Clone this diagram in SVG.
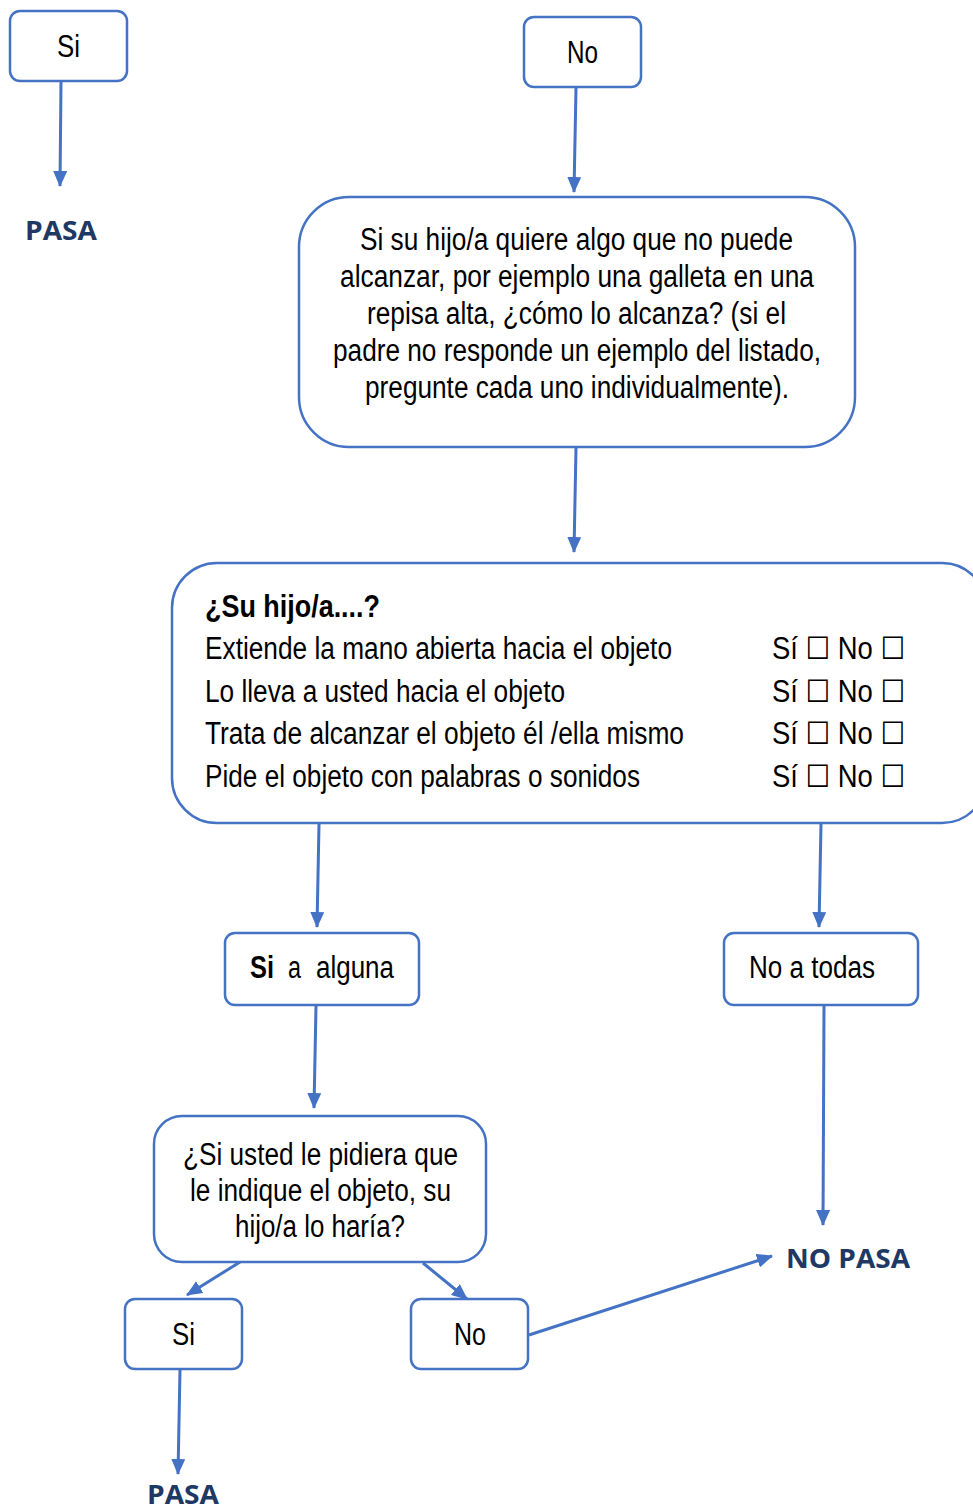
<svg xmlns="http://www.w3.org/2000/svg" width="973" height="1510" viewBox="0 0 973 1510">
<style>
.box{fill:#fff;stroke:#4472C4;stroke-width:2.5}
.t{font-family:"Liberation Sans Narrow","Liberation Sans",Arial,sans-serif;font-size:31px;fill:#000}
.b{font-weight:bold}
.c{text-anchor:middle}
.pasa{font-family:"Open Sans","Liberation Sans",sans-serif;font-weight:bold;font-size:27px;fill:#203864}
.ck{font-family:"Liberation Sans Narrow","Liberation Sans","DejaVu Sans",sans-serif;font-size:31px;fill:#000}
.con{stroke:#4472C4;stroke-width:3;fill:none;marker-end:url(#ah)}
</style>
<defs>
<marker id="ah" markerUnits="userSpaceOnUse" markerWidth="16" markerHeight="14" refX="15" refY="7" orient="auto">
<path d="M0,0 L16,7 L0,14 z" fill="#4472C4"/>
</marker>
</defs>
<rect width="973" height="1510" fill="#fff"/>

<g id="connectors">
<line class="con" x1="61" y1="82" x2="60" y2="186"/>
<line class="con" x1="576" y1="88" x2="574" y2="192"/>
<line class="con" x1="576" y1="448" x2="574" y2="552"/>
<line class="con" x1="319" y1="824" x2="317" y2="927"/>
<line class="con" x1="821" y1="824" x2="819" y2="927"/>
<line class="con" x1="316" y1="1006" x2="314" y2="1108"/>
<line class="con" x1="824" y1="1006" x2="823" y2="1225"/>
<line class="con" x1="240" y1="1262" x2="187" y2="1295"/>
<line class="con" x1="423" y1="1263" x2="467" y2="1299"/>
<line class="con" x1="529" y1="1335" x2="772" y2="1256"/>
<line class="con" x1="180" y1="1370" x2="178" y2="1474"/>
</g>

<g id="si-top">
<rect class="box" x="10" y="11" width="117" height="70" rx="10"/>
<text class="t" x="57" y="57" textLength="23" lengthAdjust="spacingAndGlyphs">Si</text>
</g>
<g id="pasa-top">
<text class="pasa" x="25" y="240" textLength="72" lengthAdjust="spacingAndGlyphs">PASA</text>
</g>

<g id="no-top">
<rect class="box" x="524" y="17" width="117" height="70" rx="10"/>
<text class="t" x="567" y="63" textLength="31" lengthAdjust="spacingAndGlyphs">No</text>
</g>

<g id="pregunta1">
<rect class="box" x="299" y="197" width="556" height="250" rx="50"/>
<text class="t" x="360" y="250" textLength="433" lengthAdjust="spacingAndGlyphs">Si su hijo/a quiere algo que no puede</text>
<text class="t" x="340" y="287" textLength="474" lengthAdjust="spacingAndGlyphs">alcanzar, por ejemplo una galleta en una</text>
<text class="t" x="367" y="324" textLength="419" lengthAdjust="spacingAndGlyphs">repisa alta, ¿cómo lo alcanza? (si el</text>
<text class="t" x="333" y="361" textLength="488" lengthAdjust="spacingAndGlyphs">padre no responde un ejemplo del listado,</text>
<text class="t" x="365" y="398" textLength="424" lengthAdjust="spacingAndGlyphs">pregunte cada uno individualmente).</text>
</g>

<g id="lista">
<rect class="box" x="172" y="563" width="815" height="260" rx="45"/>
<text class="t b" x="205" y="617" textLength="175" lengthAdjust="spacingAndGlyphs">¿Su hijo/a....?</text>
<text class="t" x="205" y="659" textLength="467" lengthAdjust="spacingAndGlyphs">Extiende la mano abierta hacia el objeto</text>
<text class="t" x="205" y="702" textLength="360" lengthAdjust="spacingAndGlyphs">Lo lleva a usted hacia el objeto</text>
<text class="t" x="205" y="744" textLength="479" lengthAdjust="spacingAndGlyphs">Trata de alcanzar el objeto él /ella mismo</text>
<text class="t" x="205" y="787" textLength="435" lengthAdjust="spacingAndGlyphs">Pide el objeto con palabras o sonidos</text>
<text class="ck" x="772" y="659" textLength="133" lengthAdjust="spacingAndGlyphs">Sí ☐ No ☐</text>
<text class="ck" x="772" y="702" textLength="133" lengthAdjust="spacingAndGlyphs">Sí ☐ No ☐</text>
<text class="ck" x="772" y="744" textLength="133" lengthAdjust="spacingAndGlyphs">Sí ☐ No ☐</text>
<text class="ck" x="772" y="787" textLength="133" lengthAdjust="spacingAndGlyphs">Sí ☐ No ☐</text>
</g>

<g id="si-alguna">
<rect class="box" x="225" y="933" width="194" height="72" rx="10"/>
<text class="t" y="978"><tspan class="b" x="250" textLength="24" lengthAdjust="spacingAndGlyphs">Si</tspan><tspan x="288" textLength="13" lengthAdjust="spacingAndGlyphs">a</tspan><tspan x="316" textLength="78" lengthAdjust="spacingAndGlyphs">alguna</tspan></text>
</g>

<g id="no-todas">
<rect class="box" x="724" y="933" width="194" height="72" rx="10"/>
<text class="t" x="749" y="978" textLength="126" lengthAdjust="spacingAndGlyphs">No a todas</text>
</g>

<g id="pregunta2">
<rect class="box" x="154" y="1116" width="332" height="146" rx="28"/>
<text class="t" x="183" y="1165" textLength="275" lengthAdjust="spacingAndGlyphs">¿Si usted le pidiera que</text>
<text class="t" x="190" y="1201" textLength="261" lengthAdjust="spacingAndGlyphs">le indique el objeto, su</text>
<text class="t" x="235" y="1237" textLength="170" lengthAdjust="spacingAndGlyphs">hijo/a lo haría?</text>
</g>

<g id="si-bottom">
<rect class="box" x="125" y="1299" width="117" height="70" rx="10"/>
<text class="t" x="172" y="1345" textLength="23" lengthAdjust="spacingAndGlyphs">Si</text>
</g>

<g id="no-bottom">
<rect class="box" x="411" y="1299" width="117" height="70" rx="10"/>
<text class="t" x="454" y="1345" textLength="32" lengthAdjust="spacingAndGlyphs">No</text>
</g>

<g id="no-pasa">
<text class="pasa" x="786" y="1268" textLength="124" lengthAdjust="spacingAndGlyphs">NO PASA</text>
</g>

<g id="pasa-bottom">
<text class="pasa" x="147" y="1504" textLength="72" lengthAdjust="spacingAndGlyphs">PASA</text>
</g>
</svg>
